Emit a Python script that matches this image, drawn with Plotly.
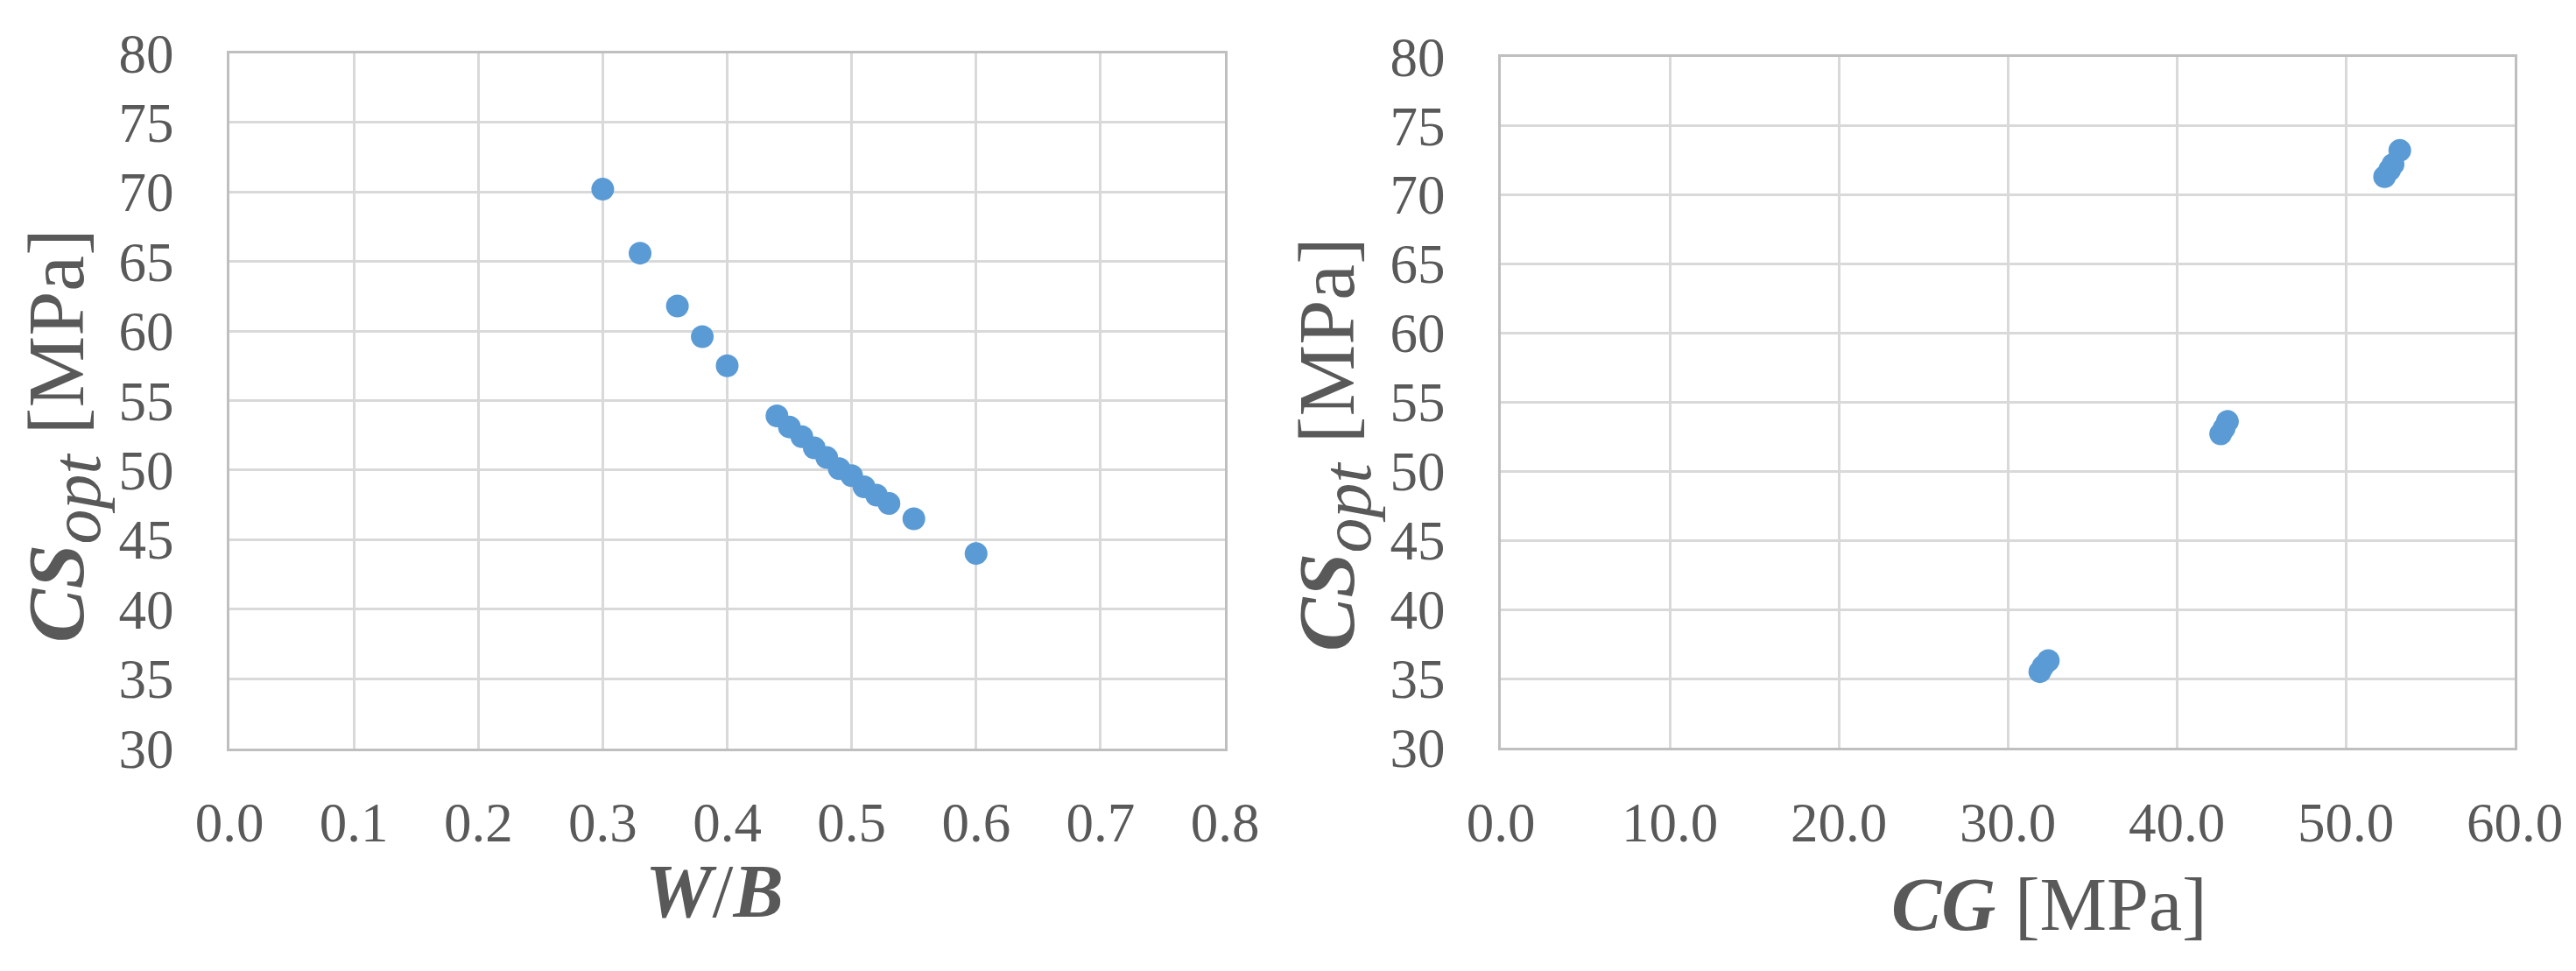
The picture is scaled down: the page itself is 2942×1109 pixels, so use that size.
import plotly.graph_objects as go

# ---- data ----
wb_values = [0.30, 0.33, 0.36, 0.38, 0.40, 0.44, 0.45, 0.46, 0.47, 0.48,
             0.49, 0.50, 0.51, 0.52, 0.53, 0.55, 0.60]
cs_wb = [70.2, 65.6, 61.8, 59.6, 57.5, 53.9, 53.1, 52.4, 51.6, 50.9,
         50.1, 49.6, 48.8, 48.2, 47.6, 46.5, 44.0]

cg_values = [31.9, 32.1, 32.4, 42.6, 42.8, 43.0, 52.3, 52.6, 52.8, 53.2]
cs_cg = [35.5, 35.9, 36.3, 52.7, 53.1, 53.6, 71.3, 71.8, 72.2, 73.2]

y_ticks = [30, 35, 40, 45, 50, 55, 60, 65, 70, 75, 80]
x1_ticks = [0.0, 0.1, 0.2, 0.3, 0.4, 0.5, 0.6, 0.7, 0.8]
x2_ticks = [0.0, 10.0, 20.0, 30.0, 40.0, 50.0, 60.0]

W, H = 2942, 1109
FONT = "Liberation Serif"
TXT = "#595959"
GRID = "#D9D9D9"
BORDER = "#BFBFBF"
MARK = "#5B9BD5"

def px(x):
    return x / W

def py(y):
    return 1 - y / H

fig = go.Figure()
fig.add_trace(go.Scatter(x=wb_values, y=cs_wb, mode="markers",
                         marker=dict(color=MARK, size=26, line=dict(width=0)),
                         xaxis="x", yaxis="y", showlegend=False))
fig.add_trace(go.Scatter(x=cg_values, y=cs_cg, mode="markers",
                         marker=dict(color=MARK, size=26, line=dict(width=0)),
                         xaxis="x2", yaxis="y2", showlegend=False))

axis_common = dict(showgrid=True, gridcolor=GRID, gridwidth=3,
                   showline=True, linecolor=BORDER, linewidth=3, mirror=True,
                   zeroline=False, ticks="", automargin=False,
                   tickfont=dict(family=FONT, size=63, color=TXT))

fig.update_layout(
    width=W, height=H,
    margin=dict(l=0, r=0, t=0, b=0),
    paper_bgcolor="white", plot_bgcolor="white",
    xaxis=dict(domain=[px(254), px(1391)], range=[0, 0.8],
               tickvals=x1_ticks, tickformat=".1f", anchor="y",
               ticklabelstandoff=28, **axis_common),
    yaxis=dict(domain=[py(846.5), py(52.5)], range=[30, 80],
               tickvals=y_ticks, anchor="x",
               ticklabelstandoff=48, **axis_common),
    xaxis2=dict(domain=[px(1706), px(2864)], range=[0, 60],
                tickvals=x2_ticks, tickformat=".1f", anchor="y2",
                ticklabelstandoff=28, **axis_common),
    yaxis2=dict(domain=[py(846), py(56.5)], range=[30, 80],
                tickvals=y_ticks, anchor="x2",
                ticklabelstandoff=48, **axis_common),
)

title_font = dict(family=FONT, size=92, color=TXT)
ylab = ("<b><i>CS</i></b><sub><i><span style=\"font-size:80px\">opt</span></i></sub>"
        " [MPa]")
fig.add_annotation(text=ylab, x=px(64), y=py(490), xref="paper", yref="paper",
                   textangle=-90, showarrow=False, font=title_font,
                   xanchor="center", yanchor="middle")
fig.add_annotation(text=ylab, x=px(1515), y=py(500), xref="paper", yref="paper",
                   textangle=-90, showarrow=False, font=title_font,
                   xanchor="center", yanchor="middle")
fig.add_annotation(text="<b><i>W</i></b>/<b><i>B</i></b>", x=px(808), y=py(1010),
                   xref="paper", yref="paper", showarrow=False,
                   font=dict(family=FONT, size=86, color=TXT),
                   xanchor="center", yanchor="middle")
fig.add_annotation(text="<b><i>CG</i></b> [MPa]", x=px(2332), y=py(1025),
                   xref="paper", yref="paper", showarrow=False,
                   font=dict(family=FONT, size=86, color=TXT),
                   xanchor="center", yanchor="middle")

fig.write_html("out.html")
